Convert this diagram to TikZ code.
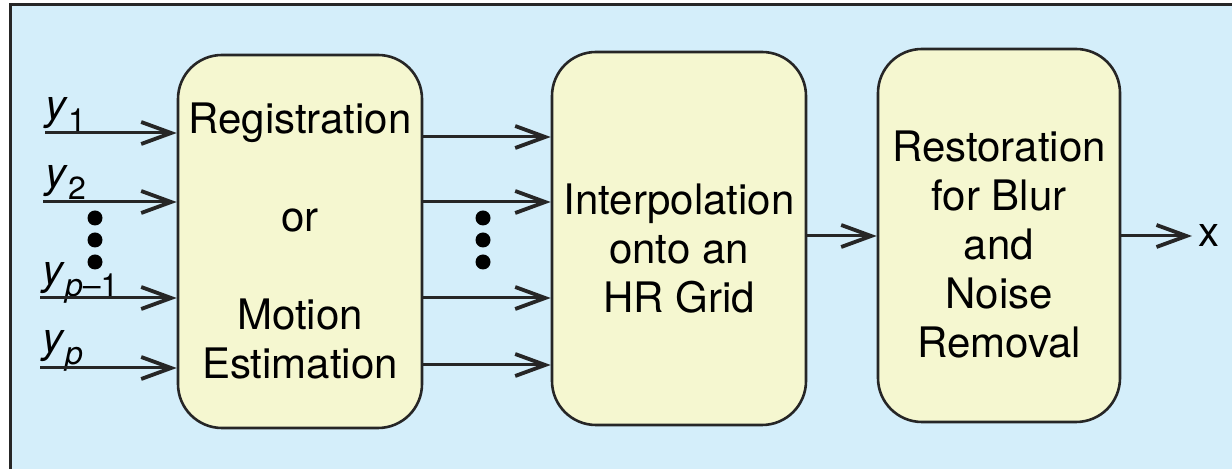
\documentclass[tikz,border=0pt]{standalone}
\usepackage{fontspec}
\setmainfont{TeX Gyre Heros}
\usetikzlibrary{arrows.meta}
\definecolor{panel}{RGB}{212,238,250}
\definecolor{blockfill}{RGB}{245,247,208}
\definecolor{edge}{RGB}{38,38,38}
\newcommand{\subidx}[1]{\raisebox{-0.28em}{\fontsize{16}{16}\selectfont #1}}

\begin{document}
\begin{tikzpicture}[x=0.5pt,y=-0.5pt,
  block/.style={draw=edge, line width=1.3pt, fill=blockfill, rounded corners=22pt,
    inner sep=0pt, minimum height=186.5pt},
  blocktext/.style={align=center, inner sep=0pt,
    font=\fontsize{21}{24.5}\selectfont},
  link/.style={draw=edge, line width=1.5pt,
    -{Straight Barb[length=15pt,width=11pt,line width=1.9pt]}},
  sig/.style={inner sep=0pt, anchor=base west, font=\fontsize{21}{24.5}\selectfont},
  dot/.style={circle, fill=black, inner sep=0pt, minimum size=7.5pt}]

  \useasboundingbox (0,0) rectangle (1232,469);

  % panel background and its frame
  \fill[panel] (10,5) rectangle (1245,480);
  \draw[edge, line width=1.5pt] (10,480) -- (10,5) -- (1245,5);

  % processing blocks
  \node[block, minimum width=122pt] (reg) at (300,241.5) {};
  \node[blocktext] (regtext) at (reg.center)
    {Registration\\~\\or\\~\\Motion\\Estimation};
  \node[block, minimum width=127pt] (interp) at (679,238.5) {};
  \node[blocktext] (interptext) at ([yshift=-5pt]interp.center)
    {Interpolation\\onto an\\HR Grid};
  \node[block, minimum width=121pt] (rest) at (999,235.5) {};
  \node[blocktext] (resttext) at ([yshift=-4.5pt]rest.center)
    {Restoration\\for Blur\\and\\Noise\\Removal};

  % input frames
  \coordinate (in1) at (45,133);
  \coordinate (in2) at (43,202);
  \coordinate (in3) at (40,298);
  \coordinate (in4) at (40,368);
  \node[sig] (l1) at (45,120) {\textit{y}\subidx{1}};
  \node[sig] (l2) at (45,188) {\textit{y}\subidx{2}};
  \node[sig] (l3) at (42,285) {\textit{y}\subidx{\textit{p}–1}};
  \node[sig] (l4) at (42,353) {\textit{y}\subidx{\textit{p}}};
  \foreach \i in {1,...,4}
    \draw[link] (in\i) -- (reg.west |- in\i);

  \node[dot] (d1) at (95,218) {};
  \node[dot] (d2) at (95,240) {};
  \node[dot] (d3) at (95,262) {};

  % registered frames to interpolation
  \foreach \y in {137,202,298,365}
    \draw[link] (reg.east |- 0,\y) -- (interp.west |- 0,\y);

  \node[dot] (m1) at (483,218) {};
  \node[dot] (m2) at (483,240) {};
  \node[dot] (m3) at (483,262) {};

  % interpolation to restoration to output
  \draw[link] (interp.east |- 0,236) -- (rest.west |- 0,236);
  \node[sig, anchor=west, inner sep=3pt] (out) at (1192,236) {x};
  \draw[link] (rest.east |- out.west) -- (out.west);
\end{tikzpicture}
\end{document}
